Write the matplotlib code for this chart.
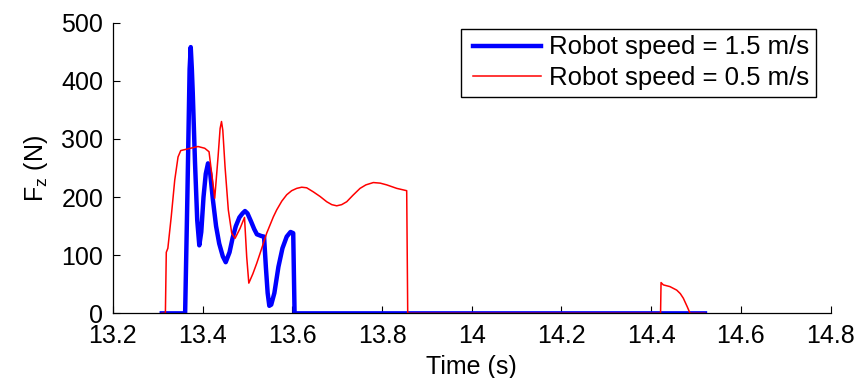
import matplotlib
matplotlib.use("Agg")
import matplotlib.pyplot as plt
from matplotlib.lines import Line2D
from matplotlib.legend_handler import HandlerLine2D

plt.rcParams["font.family"] = ["Liberation Sans", "DejaVu Sans"]
plt.rcParams["font.size"] = 18

# Robot speed = 1.5 m/s
fast_t = [13.309, 13.361, 13.366, 13.371, 13.3735, 13.376, 13.378, 13.383, 13.388,
          13.3926, 13.397, 13.402, 13.407, 13.412, 13.417, 13.423, 13.430, 13.437,
          13.445, 13.4515, 13.460, 13.467, 13.474, 13.482, 13.489, 13.4945, 13.500,
          13.508, 13.515, 13.521, 13.531, 13.537, 13.541, 13.545, 13.5487, 13.553,
          13.560, 13.569, 13.578, 13.5875, 13.596, 13.602, 13.605, 14.52]
fast_f = [0, 0, 200, 420, 458, 420, 380, 260, 160,
          117, 140, 200, 240, 258, 240, 195, 150, 120,
          98, 88, 105, 130, 150, 165, 172, 176, 172,
          158, 145, 136, 133, 132, 80, 35, 13, 15,
          35, 80, 112, 132, 140, 138, 0, 0]

# Robot speed = 0.5 m/s
slow_t = [13.309, 13.317, 13.319, 13.3225, 13.330, 13.3378, 13.3452, 13.3512, 13.3674,
          13.3897, 13.4047, 13.4143, 13.427, 13.4345, 13.439, 13.4421, 13.445, 13.450,
          13.4573, 13.4649, 13.4723, 13.4834, 13.4934, 13.4983, 13.503, 13.512, 13.5206,
          13.528, 13.5429, 13.5577, 13.5652, 13.5765, 13.5875, 13.5985, 13.6098, 13.621,
          13.632, 13.6468, 13.662, 13.6767, 13.688, 13.699, 13.71, 13.7213, 13.735,
          13.751, 13.764, 13.7806, 13.796, 13.8105, 13.8328, 13.855, 13.8573, 14.421,
          14.4221, 14.4272, 14.442, 14.457, 14.465, 14.4718, 14.4807, 14.4868, 14.52]
slow_f = [0, 0, 105, 112, 166, 229, 269, 280, 283,
          287, 284, 278, 198, 270, 318, 330, 315, 252,
          178, 138, 129, 146, 165, 97, 52, 68, 86,
          103, 138, 166, 178, 193, 204, 211, 215, 217,
          216, 209, 201, 192, 187, 185, 187, 192, 203,
          215, 221, 225, 224, 221, 215, 211, 0, 0,
          53, 49, 46, 40, 34, 26, 11, 0, 0]

x_ticks = [13.2, 13.4, 13.6, 13.8, 14, 14.2, 14.4, 14.6, 14.8]
x_tick_labels = ["13.2", "13.4", "13.6", "13.8", "14", "14.2", "14.4", "14.6", "14.8"]
y_ticks = [0, 100, 200, 300, 400, 500]

fig = plt.figure(figsize=(8.58, 3.78), dpi=100)
ax = fig.add_axes([0.1316, 0.171, 0.8364, 0.769])

ax.plot(fast_t, fast_f, color="#0000ff", lw=3.2, label="Robot speed = 1.5 m/s")
ax.plot(slow_t, slow_f, color="#ff0000", lw=1.1, label="Robot speed = 0.5 m/s")

ax.set_xlim(13.2, 14.8)
ax.set_ylim(0, 500)
ax.set_xticks(x_ticks)
ax.set_xticklabels(x_tick_labels)
ax.set_yticks(y_ticks)

ax.spines["top"].set_visible(False)
ax.spines["right"].set_visible(False)
for side in ("left", "bottom"):
    ax.spines[side].set_linewidth(0.9)
ax.tick_params(direction="in", length=5, width=0.8)
ax.tick_params(axis="x", pad=7.5)
ax.tick_params(axis="y", pad=7)

ax.set_xlabel("Time (s)", labelpad=5)
ax.set_ylabel(r"$\mathregular{F_z}$ (N)", labelpad=8)

# handle trimmed at both ends so the frame keeps MATLAB-like inner spacing
leg = ax.legend(loc="upper right", bbox_to_anchor=(0.9797, 0.978), borderaxespad=0,
                fancybox=False, framealpha=1, handlelength=3.15, handletextpad=0.06,
                borderpad=0.25, labelspacing=0.27, fontsize=18.5,
                handler_map={Line2D: HandlerLine2D(numpoints=2, marker_pad=0.25)})
leg.get_frame().set_edgecolor("black")
leg.get_frame().set_linewidth(1.0)

fig.savefig("out.png", dpi=100)
